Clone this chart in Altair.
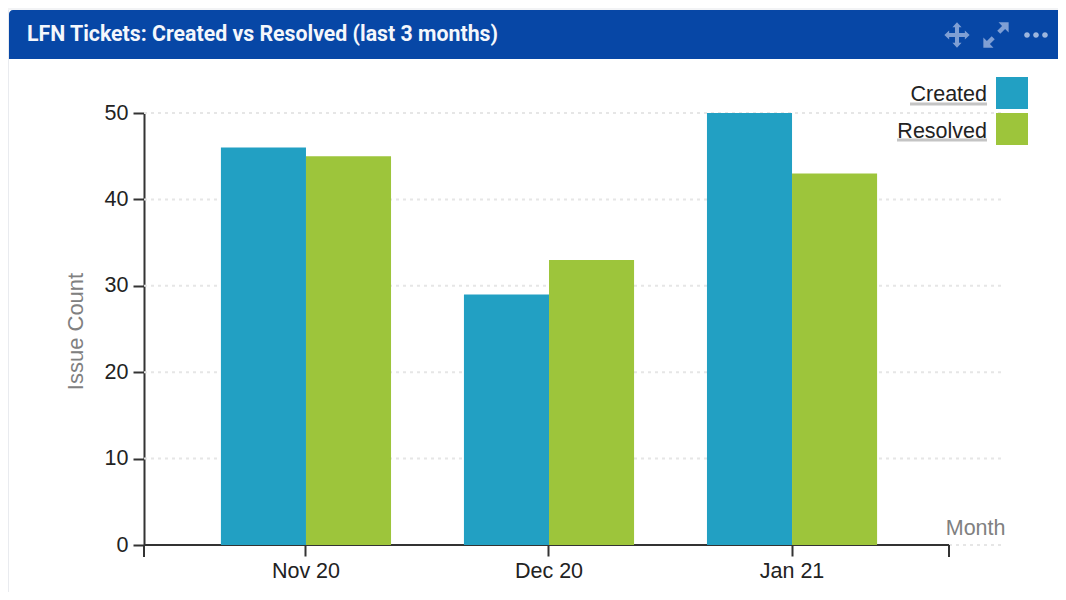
import altair as alt
import pandas as pd

months = ["Nov 20", "Dec 20", "Jan 21"]
created = [46, 29, 50]
resolved = [45, 33, 43]
series = ["Created", "Resolved"]
colors = ["#22a0c3", "#9dc53b"]
grid_values = [0, 10, 20, 30, 40, 50]
panel_title = "LFN Tickets: Created vs Resolved (last 3 months)"

rows = []
for m, c, r in zip(months, created, resolved):
    rows.append({"month": m, "series": "Created", "count": c})
    rows.append({"month": m, "series": "Resolved", "count": r})
df = pd.DataFrame(rows)
grid_df = pd.DataFrame({"v": grid_values})
legend_df = pd.DataFrame({"series": series})
one = pd.DataFrame({"label": [panel_title]})

FONT = "Liberation Sans"
AXC = "#333333"
color_scale = alt.Scale(domain=series, range=colors)
y_scale = alt.Scale(domain=[0, 50], nice=False)
legend_y = alt.Y("series:N", axis=None,
                 scale=alt.Scale(type="point", domain=series, range=[-20, 16], padding=0))
legend_text_y = alt.Y("series:N", axis=None,
                      scale=alt.Scale(type="point", domain=series, range=[-18, 19], padding=0))

strip = alt.Chart(one).mark_rect(color="#f2f3f5").encode(
    x=alt.value(-136), x2=alt.value(914), y=alt.value(-105), y2=alt.value(-103))
edge = alt.Chart(one).mark_rect(color="#e9ebef").encode(
    x=alt.value(-136), x2=alt.value(-135), y=alt.value(-103), y2=alt.value(479))
header = alt.Chart(one).mark_rect(color="#0747a6", cornerRadiusTopLeft=4).encode(
    x=alt.value(-135), x2=alt.value(914), y=alt.value(-103), y2=alt.value(-54))
title = alt.Chart(one).mark_text(align="left", baseline="middle", font="Roboto", fontSize=21.3,
                                 fontWeight="bold", color="#f4f7fc").encode(
    x=alt.value(-117), y=alt.value(-78), text="label:N")

move = alt.Chart(one).mark_point(
    filled=True, opacity=1, color="#7f9fd4", size=640,
    shape="M0,-1 L-0.36,-0.62 L-0.16,-0.62 L-0.16,-0.16 L-0.62,-0.16 L-0.62,-0.36 L-1,0 L-0.62,0.36 L-0.62,0.16 L-0.16,0.16 L-0.16,0.62 L-0.36,0.62 L0,1 L0.36,0.62 L0.16,0.62 L0.16,0.16 L0.62,0.16 L0.62,0.36 L1,0 L0.62,-0.36 L0.62,-0.16 L0.16,-0.16 L0.16,-0.62 L0.36,-0.62 Z"
).encode(x=alt.value(813), y=alt.value(-78))
expand = alt.Chart(one).mark_point(
    filled=True, opacity=1, color="#7f9fd4", size=640,
    shape="M0.2,-1 L1,-1 L1,-0.2 L0.72,-0.48 L0.34,-0.1 L0.1,-0.34 L0.48,-0.72 Z M-0.2,1 L-1,1 L-1,0.2 L-0.72,0.48 L-0.34,0.1 L-0.1,0.34 L-0.48,0.72 Z"
).encode(x=alt.value(852), y=alt.value(-78))
dots = alt.Chart(one).mark_point(
    filled=True, opacity=1, color="#9db6de", size=560,
    shape="M-1,0 A0.24,0.24 0 1 1 -0.52,0 A0.24,0.24 0 1 1 -1,0 Z M-0.24,0 A0.24,0.24 0 1 1 0.24,0 A0.24,0.24 0 1 1 -0.24,0 Z M0.52,0 A0.24,0.24 0 1 1 1,0 A0.24,0.24 0 1 1 0.52,0 Z"
).encode(x=alt.value(892), y=alt.value(-78))

grid = alt.Chart(grid_df).mark_rule(color="#e6e6e6", strokeWidth=2, strokeDash=[3, 4]).encode(
    y=alt.Y("v:Q", scale=y_scale, axis=None), x=alt.value(0), x2=alt.value(861))

x_line = alt.Chart(one).mark_rule(color=AXC, strokeWidth=2).encode(
    x=alt.value(0), x2=alt.value(805), y=alt.value(432))
y_ext = alt.Chart(one).mark_rule(color=AXC, strokeWidth=2).encode(
    x=alt.value(0), y=alt.value(432), y2=alt.value(444))
x_end = alt.Chart(one).mark_rule(color=AXC, strokeWidth=2).encode(
    x=alt.value(805), y=alt.value(432), y2=alt.value(444))

bars = alt.Chart(df).mark_bar().encode(
    x=alt.X("month:N", sort=months,
            scale=alt.Scale(domain=months, range=[0, 810], paddingInner=0.3, paddingOuter=0.3165),
            axis=alt.Axis(title="Month", titleX=861, titleY=-17, titleAlign="right",
                          titleBaseline="middle", titleFont=FONT, titleFontSize=21.5,
                          titleFontWeight="normal", titleColor="#808080",
                          labelFont=FONT, labelFontSize=21.5, labelColor="#222222", labelAngle=0,
                          labelPadding=4, domain=False, ticks=True, tickSize=11,
                          tickColor=AXC, tickWidth=2, grid=False, labelFlush=False)),
    xOffset=alt.XOffset("series:N", sort=series, scale=alt.Scale(domain=series)),
    y=alt.Y("count:Q", scale=y_scale,
            axis=alt.Axis(orient="left", values=grid_values, title="Issue Count",
                          titleFont=FONT, titleFontSize=22, titleFontWeight="normal",
                          titleColor="#808080", titlePadding=17, titleY=218,
                          labelFont=FONT, labelFontSize=21.5, labelColor="#222222", labelPadding=5,
                          domain=True, domainColor=AXC, domainWidth=2, ticks=True, tickSize=11,
                          tickColor=AXC, tickWidth=2, grid=False)),
    color=alt.Color("series:N", scale=color_scale, legend=None),
)

swatches = alt.Chart(legend_df).mark_point(shape="square", filled=True, opacity=1, size=1024).encode(
    x=alt.value(868), y=legend_y,
    color=alt.Color("series:N", scale=color_scale, legend=None))
legend_labels = alt.Chart(legend_df).mark_text(align="right", baseline="middle", font=FONT,
                                               fontSize=21.5, color="#222222").encode(
    x=alt.value(843), y=legend_text_y, text="series:N")
under1 = alt.Chart(legend_df).transform_filter(alt.datum.series == "Created").mark_rule(
    color="#c4c4c4", strokeWidth=3).encode(
    x=alt.value(766), x2=alt.value(843), y=alt.value(-9))
under2 = alt.Chart(legend_df).transform_filter(alt.datum.series == "Resolved").mark_rule(
    color="#c4c4c4", strokeWidth=3).encode(
    x=alt.value(753), x2=alt.value(843), y=alt.value(27))

chart = alt.layer(
    strip, edge, header, title, move, expand, dots,
    grid, x_line, y_ext, x_end, bars, under1, under2, legend_labels, swatches
).resolve_scale(y="independent").properties(
    width=805, height=432,
    padding={"left": 136, "top": 105, "right": 109, "bottom": 47},
    autosize=alt.AutoSizeParams(type="none"),
    background="white",
).configure_view(stroke=None)

chart.save("out.html", embed_options={"renderer": "svg", "actions": False})
